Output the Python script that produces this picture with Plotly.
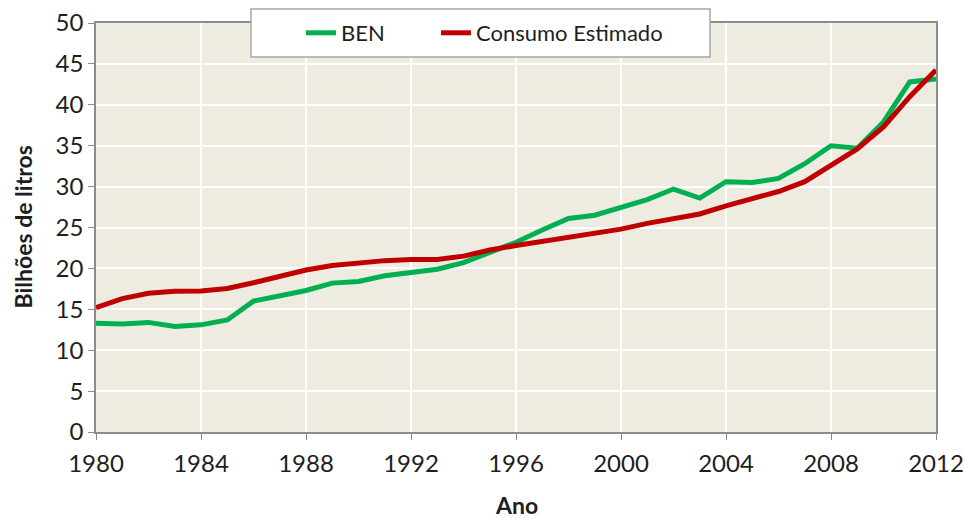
import plotly.graph_objects as go

years = list(range(1980, 2013))
ben = [13.3, 13.2, 13.4, 12.9, 13.1, 13.7, 16.0, 16.7, 17.3, 18.2, 18.4, 19.1, 19.5, 19.9, 20.7, 21.9, 23.2,
       24.7, 26.1, 26.5, 27.4, 28.4, 29.7, 28.6, 30.6, 30.5, 31.0, 32.8, 35.0, 34.7, 37.9, 42.8, 43.15]
consumo = [15.2, 16.3, 16.95, 17.2, 17.25, 17.55, 18.25, 19.0, 19.8, 20.35, 20.7, 20.95, 21.1, 21.1, 21.5, 22.25, 22.8,
           23.3, 23.8, 24.2, 24.8, 25.5, 26.1, 26.65, 27.65, 28.55, 29.4, 30.6, 32.6, 34.6, 37.3, 41.0, 44.25]
x_ticks = list(range(1980, 2013, 4))
y_ticks = list(range(0, 51, 5))

FONT = "Lato"
TXT = "#1e1e1e"
W, H = 965, 518
L, R, T, B = 96, 29, 23, 86
PW, PH = W - L - R, H - T - B

fig = go.Figure()
fig.add_trace(go.Scatter(x=years, y=ben, mode="lines", name="BEN",
                         line=dict(color="#00B050", width=5), legend="legend"))
fig.add_trace(go.Scatter(x=years, y=consumo, mode="lines", name="Consumo Estimado",
                         line=dict(color="#C00000", width=5), legend="legend2"))

fig.add_shape(type="rect", xref="paper", yref="paper",
              x0=(251 - L) / PW, x1=(710 - L) / PW,
              y0=(H - B - 57) / PH, y1=(H - B - 9) / PH,
              fillcolor="white", line=dict(color="#A6A6A6", width=1.5), layer="above")

leg_common = dict(orientation="h", xref="container", yref="container", xanchor="left",
                  y=1 - 33 / H, yanchor="middle", bgcolor="rgba(0,0,0,0)", borderwidth=0,
                  font=dict(family=FONT, size=22, color=TXT))

fig.update_layout(
    width=W, height=H,
    margin=dict(l=L, r=R, t=T, b=B, autoexpand=False),
    paper_bgcolor="white", plot_bgcolor="#EEECE1",
    font=dict(family=FONT, size=24, color=TXT),
    showlegend=True,
    legend=dict(x=301 / W, **leg_common),
    legend2=dict(x=436 / W, **leg_common),
    xaxis=dict(range=[1980, 2012], tickvals=x_ticks, ticktext=[str(v) for v in x_ticks],
               showgrid=True, gridcolor="white", gridwidth=1.5,
               showline=True, linecolor="#8C8C8C", linewidth=1.5, mirror=True,
               ticks="outside", ticklen=6, tickcolor="#8C8C8C",
               zeroline=False, automargin=False, ticklabelstandoff=3,
               tickfont=dict(family=FONT, size=24, color=TXT)),
    yaxis=dict(range=[0, 50], tickvals=y_ticks,
               showgrid=True, gridcolor="white", gridwidth=1.5,
               showline=True, linecolor="#8C8C8C", linewidth=1.5, mirror=True,
               ticks="outside", ticklen=6, tickcolor="#8C8C8C",
               zeroline=False, automargin=False,
               tickfont=dict(family=FONT, size=24, color=TXT)),
    annotations=[
        dict(text="<b>Ano</b>", xref="paper", yref="paper", x=0.5, y=(H - B - 505) / PH,
             xanchor="center", yanchor="middle", showarrow=False,
             font=dict(family=FONT, size=23, color=TXT)),
        dict(text="<b>Bilhões de litros</b>", xref="paper", yref="paper", x=(22 - L) / PW,
             y=0.5, xanchor="center", yanchor="middle", textangle=-90, showarrow=False,
             font=dict(family=FONT, size=23, color=TXT)),
    ],
)

fig.write_html("out.html", config={"displayModeBar": False},
               post_script="document.body.style.margin='0';document.body.style.overflow='hidden';")
